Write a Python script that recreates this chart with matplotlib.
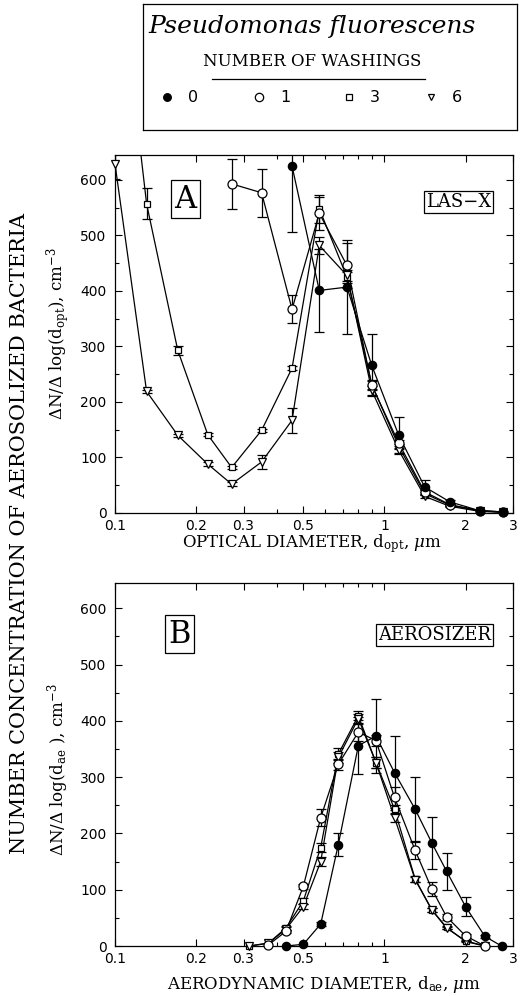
import numpy as np
import matplotlib
matplotlib.use("Agg")
import matplotlib.pyplot as plt
import matplotlib.ticker as mticker

plt.rcParams['font.family'] = ['DejaVu Sans']
plt.rcParams['mathtext.fontset'] = 'dejavuserif'

# ---- data ----
# panel A: LAS-X optical diameter channels (um)
xA = [0.1, 0.131, 0.171, 0.221, 0.271, 0.35, 0.454, 0.573, 0.726, 0.897, 1.13, 1.41, 1.75, 2.26, 2.75]
a0_y = [625, 401, 407, 266, 140, 47, 20, 4, 2]            # from 0.454
a0_e = [118, 75, 84, 56, 33, 12, 4, 0, 0]
a1_y = [593, 577, 367, 540, 446, 230, 126, 38, 15, 4, 2]  # from 0.271
a1_e = [45, 43, 25, 30, 40, 8, 5, 3, 2, 0, 0]
a3_y = [1050, 557, 293, 141, 82, 149, 261, 548, 425, 232, 120, 35, 14, 4, 2]
a3_e = [0, 28, 8, 3, 3, 3, 3, 25, 10, 8, 5, 3, 1, 0, 0]
a6_y = [629, 219, 140, 88, 52, 92, 167, 482, 428, 221, 113, 30, 12, 3, 1]
a6_e = [27, 3, 3, 3, 3, 12, 22, 15, 10, 8, 5, 3, 1, 0, 0]

# panel B: Aerosizer aerodynamic diameter channels (um)
xB = [0.315, 0.371, 0.431, 0.50, 0.58, 0.674, 0.80, 0.93, 1.09, 1.30, 1.50, 1.70, 2.0, 2.36, 2.72]
b0_y = [0, 3, 39, 180, 356, 373, 308, 243, 183, 133, 70, 17, 0]     # 0.431 .. 2.72
b0_e = [0, 0, 3, 20, 51, 66, 66, 57, 47, 33, 17, 3, 0]
b1_y = [2, 26, 106, 228, 323, 380, 365, 264, 170, 101, 52, 18, 0]   # 0.371 .. 2.36
b1_e = [0, 3, 5, 15, 10, 15, 10, 19, 15, 12, 5, 3, 0]
b3_y = [0, 5, 32, 80, 175, 341, 409, 326, 243, 119, 64, 33, 8, 0]   # 0.315 .. 2.36
b3_e = [0, 0, 3, 5, 8, 10, 8, 10, 8, 5, 3, 2, 1, 0]
b6_y = [0, 5, 30, 70, 150, 335, 404, 326, 228, 118, 64, 32, 9, 0]   # 0.315 .. 2.36
b6_e = [0, 0, 3, 5, 8, 10, 8, 10, 8, 5, 3, 2, 1, 0]

xticks = [0.1, 0.2, 0.3, 0.5, 1, 2, 3]
xticklabels = ['0.1', '0.2', '0.3', '0.5', '1', '2', '3']
yticks = [0, 100, 200, 300, 400, 500, 600]
YMAX = 645

W, H = 523, 996
fig = plt.figure(figsize=(W / 100, H / 100), dpi=100)


def px_axes(x0, y0, x1, y1):
    return fig.add_axes([x0 / W, 1 - y1 / H, (x1 - x0) / W, (y1 - y0) / H])


styles = {
    '0': dict(marker='o', mfc='black', ms=6),
    '1': dict(marker='o', mfc='white', ms=6.5),
    '3': dict(marker='s', mfc='white', ms=5),
    '6': dict(marker='v', mfc='white', ms=5.5),
}


def draw_series(ax, xs, start, y, e, key):
    x = np.array(xs[start:start + len(y)])
    y = np.array(y, dtype=float)
    e = np.array(e, dtype=float)
    st = styles[key]
    m = e > 0
    ax.errorbar(x[m], y[m], yerr=e[m], fmt='none', ecolor='black',
                elinewidth=0.9, capsize=3.5, capthick=0.9, zorder=2)
    ax.plot(x, y, '-', color='black', lw=0.9, zorder=3)
    inside = y <= YMAX
    ax.plot(x[inside], y[inside], ls='none', marker=st['marker'], mfc=st['mfc'],
            mec='black', mew=0.9, ms=st['ms'], zorder=4, clip_on=False)


def style_axes(ax):
    ax.set_xscale('log')
    ax.set_xlim(0.1, 3)
    ax.set_ylim(0, YMAX)
    ax.xaxis.set_major_locator(mticker.FixedLocator(xticks))
    ax.xaxis.set_major_formatter(mticker.FixedFormatter(xticklabels))
    ax.xaxis.set_minor_locator(mticker.FixedLocator([0.4, 0.6, 0.7, 0.8, 0.9]))
    ax.xaxis.set_minor_formatter(mticker.NullFormatter())
    ax.set_yticks(yticks)
    ax.yaxis.set_minor_locator(mticker.MultipleLocator(50))
    ax.tick_params(which='both', direction='in', top=True, right=True, width=0.8)
    ax.tick_params(which='major', length=5, labelsize=10)
    ax.tick_params(which='minor', length=3)
    ax.tick_params(axis='x', pad=4)
    ax.tick_params(axis='y', pad=6)
    for s in ax.spines.values():
        s.set_linewidth(0.9)


axA = px_axes(115, 155, 513, 513)
axB = px_axes(115, 583, 513, 946)
for ax in (axA, axB):
    style_axes(ax)

draw_series(axA, xA, 0, a3_y, a3_e, '3')
draw_series(axA, xA, 0, a6_y, a6_e, '6')
draw_series(axA, xA, 4, a1_y, a1_e, '1')
draw_series(axA, xA, 6, a0_y, a0_e, '0')

draw_series(axB, xB, 0, b3_y, b3_e, '3')
draw_series(axB, xB, 0, b6_y, b6_e, '6')
draw_series(axB, xB, 1, b1_y, b1_e, '1')
draw_series(axB, xB, 2, b0_y, b0_e, '0')

box = dict(boxstyle='square,pad=0.12', fc='white', ec='black', lw=0.9)
axA.text(70.5 / 398, 1 - 44 / 358, 'A', transform=axA.transAxes, family='DejaVu Serif',
         fontsize=22, ha='center', va='center', bbox=box)
axB.text(64.5 / 398, 1 - 51 / 363, 'B', transform=axB.transAxes, family='DejaVu Serif',
         fontsize=22, ha='center', va='center', bbox=box)
tbox = dict(boxstyle='square,pad=0.1', fc='white', ec='black', lw=0.9)
axA.text(0.945, 1 - 47 / 358, 'LAS\u2212X', transform=axA.transAxes, family='DejaVu Serif',
         fontsize=13, ha='right', va='center', bbox=tbox)
axB.text(0.945, 1 - 52 / 363, 'AEROSIZER', transform=axB.transAxes, family='DejaVu Serif',
         fontsize=13, ha='right', va='center', bbox=tbox)

# axis titles
fig.text(312 / W, 1 - 544 / H, r'OPTICAL DIAMETER, d$_{\rm opt}$, $\mu$m', family='DejaVu Serif',
         fontsize=12, ha='center', va='center')
fig.text(324 / W, 1 - 984 / H, r'AERODYNAMIC DIAMETER, d$_{\rm ae}$, $\mu$m', family='DejaVu Serif',
         fontsize=12, ha='center', va='center')
fig.text(58 / W, 1 - 334 / H, r'$\Delta$N/$\Delta$ log(d$_{\rm opt}$), cm$^{-3}$', family='DejaVu Serif',
         fontsize=12, ha='center', va='center', rotation=90)
fig.text(58 / W, 1 - 770 / H, r'$\Delta$N/$\Delta$ log(d$_{\rm ae}$ ), cm$^{-3}$', family='DejaVu Serif',
         fontsize=12, ha='center', va='center', rotation=90)
fig.text(20 / W, 1 - 533 / H, 'NUMBER CONCENTRATION OF AEROSOLIZED BACTERIA', family='DejaVu Serif',
         fontsize=15, ha='center', va='center', rotation=90)

# legend box
lg = px_axes(143, 4, 517, 130)
lg.set_xlim(0, 374)
lg.set_ylim(126, 0)
lg.set_xticks([])
lg.set_yticks([])
for s in lg.spines.values():
    s.set_linewidth(0.9)
lg.text(169, 23, 'Pseudomonas fluorescens', family='DejaVu Serif', style='italic',
        fontsize=18, ha='center', va='center')
lg.text(169, 58, 'NUMBER OF WASHINGS', family='DejaVu Serif', fontsize=12, ha='center', va='center')
lg.plot([69, 282], [75, 75], color='black', lw=0.9)
leg_keys = ['0', '1', '3', '6']
leg_x = [24, 116, 206, 288]
for k, lx in zip(leg_keys, leg_x):
    st = styles[k]
    lg.plot([lx], [93], ls='none', marker=st['marker'], mfc=st['mfc'], mec='black',
            mew=0.9, ms=st['ms'] - 0.5)
    lg.text(lx + 26, 93, k, fontsize=11.5, ha='center', va='center')

fig.savefig('out.png', dpi=100)
